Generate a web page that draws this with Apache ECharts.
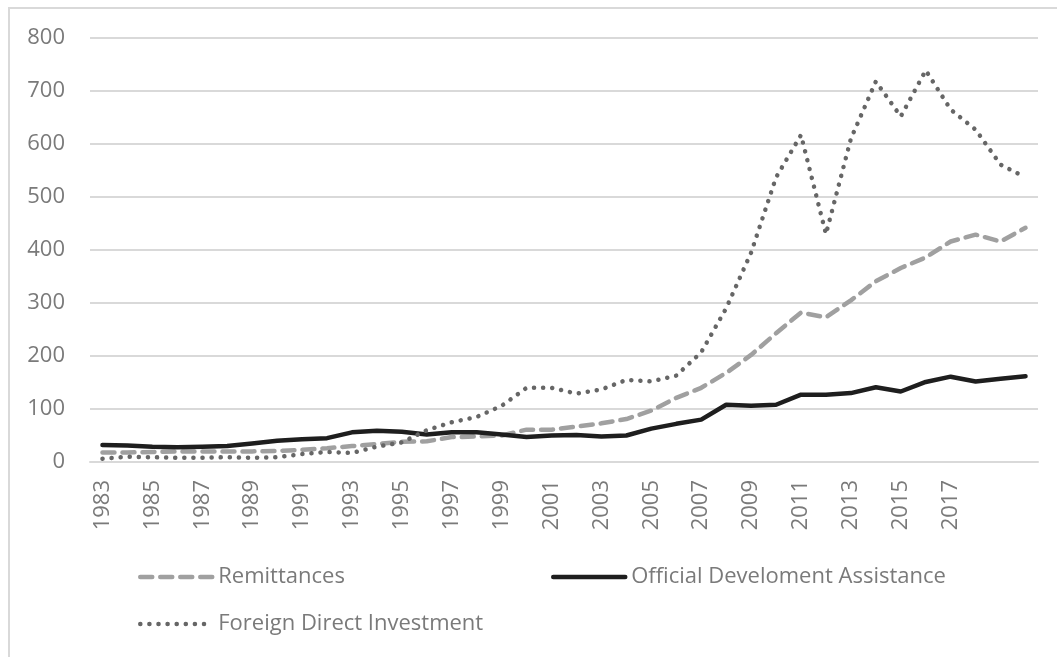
<!DOCTYPE html>
<html lang="en">
<head>
  <meta charset="UTF-8" />
  <title>Remittances, ODA and FDI</title>
  <script src="https://cdn.jsdelivr.net/npm/echarts@6/dist/echarts.min.js"></script>
  <style>
    body { margin: 0; background: #fff; }
    #frame {
      position: absolute; left: 8px; top: 7px; right: 0; bottom: 0;
      border-left: 2px solid #d9d9d9; border-top: 2px solid #d9d9d9;
    }
    #chart { position: absolute; left: 0; top: 0; width: 1057px; height: 657px; }
  </style>
</head>
<body>
  <div id="frame"></div>
  <div id="chart"></div>
  <script>
    // 1983 .. 2020, labels drawn only up to 2017
    const tickLabels = [
      "1983", "1984", "1985", "1986", "1987", "1988", "1989", "1990", "1991", "1992",
      "1993", "1994", "1995", "1996", "1997", "1998", "1999", "2000", "2001", "2002",
      "2003", "2004", "2005", "2006", "2007", "2008", "2009", "2010", "2011", "2012",
      "2013", "2014", "2015", "2016", "2017", "", "", ""
    ];
    const remittances = [
      18, 18, 19, 20, 20, 20, 20, 21, 23, 26,
      30, 34, 38, 39, 47, 48, 50, 61, 61, 67,
      73, 81, 97, 121, 140, 168, 202, 243, 282, 273,
      305, 341, 366, 386, 416, 429, 416, 442
    ];
    const oda = [
      32, 31, 29, 28, 29, 30, 35, 40, 43, 45,
      56, 59, 57, 52, 56, 56, 52, 47, 50, 51,
      48, 50, 63, 72, 80, 108, 106, 108, 127, 127,
      130, 141, 133, 151, 161, 152, 157, 162
    ];
    const fdi = [
      6, 10, 9, 8, 8, 9, 8, 9, 15, 19,
      17, 29, 37, 60, 75, 85, 106, 140, 140, 129,
      137, 155, 152, 163, 207, 290, 395, 537, 617, 430,
      610, 718, 652, 739, 665, 627, 561, 537
    ];

    const chart = echarts.init(document.getElementById("chart"));
    const font = "'Open Sans', sans-serif";
    const grey = "#7a7a7a";

    const remStyle = { color: "#a0a0a0", width: 4.5, type: [12, 8], cap: "round" };
    const odaStyle = { color: "#1e1e1e", width: 4.5, cap: "round" };
    const fdiStyle = { color: "#666666", width: 4.5, type: [0.1, 9], cap: "round" };

    function legendAt(name, lineStyle, left, top) {
      return {
        data: [name],
        left: left,
        top: top,
        itemWidth: 72,
        itemHeight: 14,
        selectedMode: false,
        itemStyle: { opacity: 0 },
        lineStyle: lineStyle,
        textStyle: { color: grey, fontSize: 22, fontFamily: font, padding: [0, 0, 0, 1] },
      };
    }

    chart.setOption({
      animation: false,
      legend: [
        legendAt("Remittances", remStyle, 133, 561),
        legendAt("Official Develoment Assistance", odaStyle, 546, 561),
        legendAt("Foreign Direct Investment", fdiStyle, 133, 608),
      ],
      grid: { left: 90, right: 19, top: 38, bottom: 195 },
      xAxis: {
        type: "category",
        data: tickLabels,
        boundaryGap: true,
        axisLine: { lineStyle: { color: "#d9d9d9", width: 2 } },
        axisTick: { show: false },
        axisLabel: {
          rotate: 90,
          interval: 1,
          margin: 18,
          color: grey,
          fontSize: 22,
          fontFamily: font,
        },
      },
      yAxis: {
        type: "value",
        min: 0,
        max: 800,
        interval: 100,
        axisLine: { show: false },
        axisTick: { show: false },
        axisLabel: { margin: 25, color: grey, fontSize: 22, fontFamily: font },
        splitLine: { lineStyle: { color: "#d9d9d9", width: 2 } },
      },
      series: [
        {
          name: "Remittances",
          type: "line",
          data: remittances,
          symbol: "none",
          lineStyle: remStyle,
          itemStyle: { color: "#a0a0a0" },
        },
        {
          name: "Official Develoment Assistance",
          type: "line",
          data: oda,
          symbol: "none",
          lineStyle: odaStyle,
          itemStyle: { color: "#1e1e1e" },
        },
        {
          name: "Foreign Direct Investment",
          type: "line",
          data: fdi,
          symbol: "none",
          lineStyle: fdiStyle,
          itemStyle: { color: "#666666" },
        },
      ],
    });
  </script>
</body>
</html>
